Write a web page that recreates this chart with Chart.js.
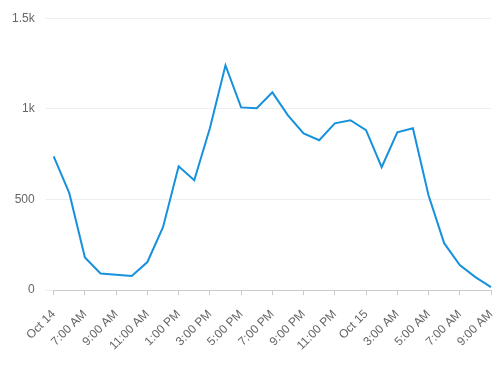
<!DOCTYPE html>
<html>
<head>
<meta charset="utf-8">
<script src="https://cdn.jsdelivr.net/npm/chart.js@4"></script>
<style>
  html, body { margin: 0; padding: 0; background: #fff; }
  #wrap { width: 502px; height: 371px; }
</style>
</head>
<body>
<div id="wrap"><canvas id="chart" width="502" height="371"></canvas></div>
<script>
// hourly buckets, Oct 14 5:00 AM -> Oct 15 9:00 AM
const hours = [
  'Oct 14', '6:00 AM', '7:00 AM', '8:00 AM', '9:00 AM', '10:00 AM', '11:00 AM', '12:00 PM',
  '1:00 PM', '2:00 PM', '3:00 PM', '4:00 PM', '5:00 PM', '6:00 PM', '7:00 PM', '8:00 PM',
  '9:00 PM', '10:00 PM', '11:00 PM', '12:00 AM', 'Oct 15', '2:00 AM', '3:00 AM', '4:00 AM',
  '5:00 AM', '6:00 AM', '7:00 AM', '8:00 AM', '9:00 AM'
];
const counts = [
  738, 535, 180, 92, 85, 78, 155, 347,
  683, 606, 893, 1240, 1008, 1003, 1091, 964,
  865, 827, 920, 937, 882, 678, 871, 893,
  523, 259, 138, 72, 17
];
const yTicks = [0, 500, 1000, 1500];

const grey = '#666';
const font = { family: '"Liberation Sans", Arial, sans-serif', size: 12 };

new Chart(document.getElementById('chart'), {
  type: 'line',
  data: {
    labels: hours,
    datasets: [{
      data: counts,
      borderColor: '#1791dc',
      borderWidth: 2,
      pointRadius: 0,
      tension: 0,
      fill: false
    }]
  },
  options: {
    responsive: false,
    animation: false,
    layout: { padding: { top: 11, right: 11, bottom: 6, left: 1 } },
    plugins: { legend: { display: false }, tooltip: { enabled: false } },
    scales: {
      x: {
        offset: false,
        // rotated last label shouldn't push the plot in from the right
        afterFit: s => { s.paddingRight = 0; },
        grid: {
          drawOnChartArea: false,
          drawTicks: true,
          tickLength: 5,
          color: ctx => (ctx.index % 2 ? 'rgba(0,0,0,0)' : '#ccc')
        },
        border: { color: '#ccc' },
        ticks: {
          autoSkip: false,
          minRotation: 45,
          maxRotation: 45,
          color: grey,
          font: font,
          padding: 12,
          callback: (v, i) => (i % 2 ? '' : hours[i])
        }
      },
      y: {
        min: yTicks[0],
        max: yTicks[yTicks.length - 1],
        afterBuildTicks: axis => { axis.ticks = yTicks.map(v => ({ value: v })); },
        grid: { color: '#eee', drawTicks: true, tickLength: 8 },
        border: { display: false },
        ticks: {
          color: grey,
          font: font,
          padding: 11,
          callback: v => (v >= 1000 ? (v / 1000) + 'k' : v)
        }
      }
    }
  }
});
</script>
</body>
</html>
